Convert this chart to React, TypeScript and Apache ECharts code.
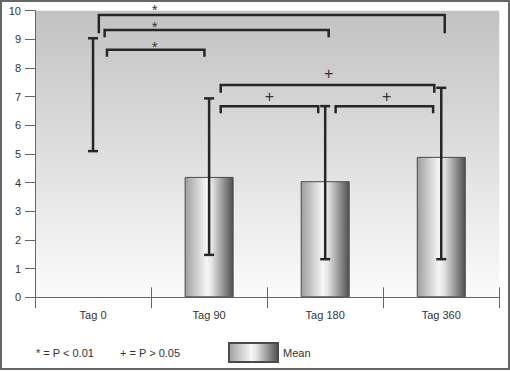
import React, { useEffect, useRef } from "react";
import * as echarts from "echarts";

const categories = ["Tag 0", "Tag 90", "Tag 180", "Tag 360"];
const meanValues: (number | string)[] = ["-", 4.2, 4.05, 4.9];
const errorLow = [5.1, 1.48, 1.33, 1.33];
const errorHigh = [9.04, 6.94, 6.67, 7.31];

// significance brackets, x in category units (0 = Tag 0 centre)
const bracketStart = [0.05, 0.1, 0.12, 1.1, 1.1, 2.09];
const bracketEnd = [3.03, 2.03, 0.96, 2.94, 1.94, 2.93];
const bracketLevel = [9.85, 9.33, 8.64, 7.41, 6.67, 6.67];
const bracketLegEnd = [9.21, 9.07, 8.39, 7.14, 6.42, 6.42];
const bracketMark = ["*", "*", "*", "+", "+", "+"];
const markX = [0.53, 0.53, 0.53, 2.03, 1.52, 2.53];
const markY = [10.13, 9.54, 8.84, 7.82, 7.0, 7.0];

const legendNotes = ["* = P < 0.01", "+ = P > 0.05"];

const FONT = '"Liberation Sans", Arial, sans-serif';
const DARK = "#262626";

export default function App() {
  const ref = useRef<HTMLDivElement>(null);
  useEffect(() => {
    const chart = echarts.init(ref.current!, null, { renderer: "svg" });
    const option: any = {
      animation: false,
      backgroundColor: "#ffffff",
      textStyle: { fontFamily: FONT },
      grid: {
        left: 35,
        right: 10.7,
        top: 10.7,
        bottom: 73.7,
        show: true,
        borderWidth: 0,
        outerBoundsMode: "none",
        backgroundColor: {
          type: "linear",
          x: 0,
          y: 0,
          x2: 0,
          y2: 1,
          colorStops: [
            { offset: 0, color: "#c2c2c2" },
            { offset: 1, color: "#fbfbfb" },
          ],
        },
      },
      legend: {
        data: ["Mean"],
        left: 228,
        top: 342,
        padding: 0,
        icon: "rect",
        itemWidth: 49,
        itemHeight: 19,
        textStyle: { fontSize: 11, color: "#333", fontFamily: FONT },
      },
      xAxis: [
        {
          type: "category",
          data: categories,
          position: "bottom",
          axisLine: { onZero: false, lineStyle: { color: "#666", width: 1 } },
          axisTick: { show: true, length: 11, lineStyle: { color: "#666" } },
          axisLabel: { fontSize: 11, color: "#333", margin: 12, fontFamily: FONT },
          splitLine: { show: false },
        },
        {
          type: "category",
          data: categories,
          position: "bottom",
          axisLine: { show: false, onZero: false },
          axisTick: { show: true, inside: true, length: 10, lineStyle: { color: "#666" } },
          axisLabel: { show: false },
          splitLine: { show: false },
        },
        {
          type: "value",
          min: -0.5,
          max: 3.5,
          show: false,
          axisLine: { onZero: false },
          splitLine: { show: false },
        },
      ],
      yAxis: {
        type: "value",
        min: 0,
        max: 10,
        interval: 1,
        position: "left",
        axisLine: { show: true, onZero: false, lineStyle: { color: "#666", width: 1 } },
        axisTick: { show: true, length: 10, lineStyle: { color: "#666" } },
        axisLabel: { fontSize: 11, color: "#333", margin: 14, fontFamily: FONT },
        splitLine: { show: false },
      },
      series: [
        {
          name: "Mean",
          type: "bar",
          xAxisIndex: 0,
          data: meanValues,
          barWidth: 49,
          itemStyle: {
            color: {
              type: "linear",
              x: 0,
              y: 0,
              x2: 1,
              y2: 0,
              colorStops: [
                { offset: 0, color: "#9e9e9e" },
                { offset: 0.45, color: "#f6f6f6" },
                { offset: 0.55, color: "#e6e6e6" },
                { offset: 1, color: "#4f4f4f" },
              ],
            },
            borderColor: "#4a4a4a",
            borderWidth: 1,
          },
        },
        {
          name: "error",
          type: "custom",
          xAxisIndex: 0,
          data: categories.map((c, i) => [i, errorLow[i], errorHigh[i]]),
          renderItem: (params: any, api: any) => {
            const lo = api.coord([api.value(0), api.value(1)]);
            const hi = api.coord([api.value(0), api.value(2)]);
            const cap = 5;
            const style = { stroke: DARK, lineWidth: 2.5 };
            return {
              type: "group",
              children: [
                { type: "line", shape: { x1: lo[0], y1: lo[1], x2: hi[0], y2: hi[1] }, style },
                { type: "line", shape: { x1: hi[0] - cap, y1: hi[1], x2: hi[0] + cap, y2: hi[1] }, style },
                { type: "line", shape: { x1: lo[0] - cap, y1: lo[1], x2: lo[0] + cap, y2: lo[1] }, style },
              ],
            };
          },
          z: 5,
        },
        {
          name: "brackets",
          type: "custom",
          xAxisIndex: 2,
          data: bracketStart.map((s, i) => [s, bracketEnd[i], bracketLevel[i], bracketLegEnd[i], markX[i], markY[i]]),
          renderItem: (params: any, api: any) => {
            const i = params.dataIndex;
            const a = api.coord([api.value(0), api.value(3)]);
            const b = api.coord([api.value(0), api.value(2)]);
            const c = api.coord([api.value(1), api.value(2)]);
            const d = api.coord([api.value(1), api.value(3)]);
            const m = api.coord([api.value(4), api.value(5)]);
            const isStar = bracketMark[i] === "*";
            return {
              type: "group",
              children: [
                {
                  type: "polyline",
                  shape: { points: [a, b, c, d] },
                  style: { stroke: DARK, lineWidth: 2.5, fill: null },
                },
                {
                  type: "text",
                  x: m[0],
                  y: m[1] + (isStar ? 3 : 0),
                  style: {
                    text: bracketMark[i],
                    fill: "#333",
                    font: (isStar ? "15px " : "16px ") + FONT,
                    align: "center",
                    verticalAlign: "middle",
                  },
                },
              ],
            };
          },
          z: 6,
        },
      ],
      graphic: [
        {
          type: "rect",
          shape: { x: 1, y: 1, width: 508, height: 368 },
          style: { fill: null, stroke: "#666", lineWidth: 2 },
          z: 100,
        },
        {
          type: "text",
          x: 36,
          y: 353,
          style: { text: legendNotes[0], font: "11px " + FONT, fill: "#333", verticalAlign: "middle" },
        },
        {
          type: "text",
          x: 120,
          y: 353,
          style: { text: legendNotes[1], font: "11px " + FONT, fill: "#333", verticalAlign: "middle" },
        },
      ],
    };
    chart.setOption(option);
    return () => chart.dispose();
  }, []);
  return (
    <div
      ref={ref}
      style={{ position: "fixed", left: 0, top: 0, width: 510, height: 371 }}
    />
  );
}
